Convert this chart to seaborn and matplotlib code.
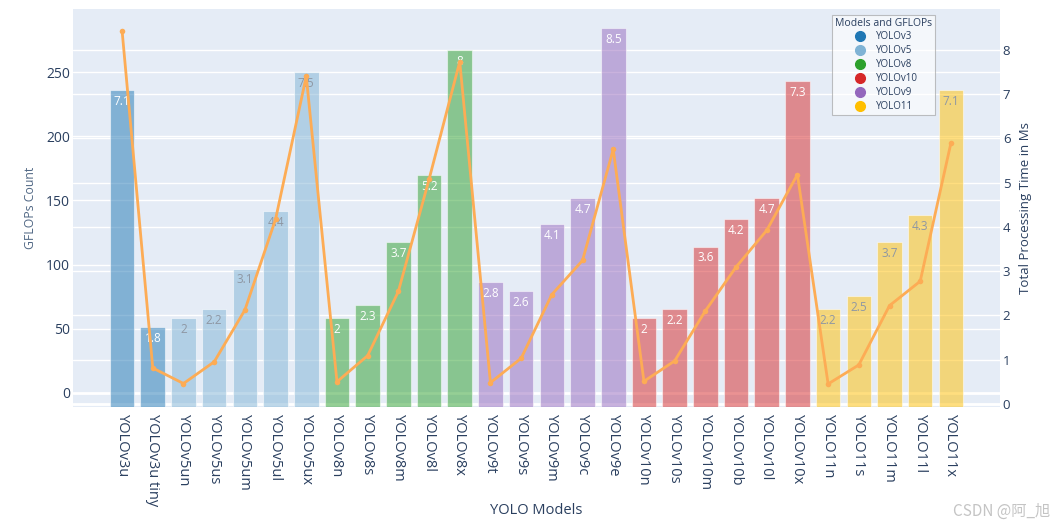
import numpy as np
import pandas as pd
import seaborn as sns
import matplotlib.pyplot as plt
from matplotlib.lines import Line2D

# data
models = ["YOLOv3u", "YOLOv3u tiny", "YOLOv5un", "YOLOv5us", "YOLOv5um", "YOLOv5ul", "YOLOv5ux",
          "YOLOv8n", "YOLOv8s", "YOLOv8m", "YOLOv8l", "YOLOv8x",
          "YOLOv9t", "YOLOv9s", "YOLOv9m", "YOLOv9c", "YOLOv9e",
          "YOLOv10n", "YOLOv10s", "YOLOv10m", "YOLOv10b", "YOLOv10l", "YOLOv10x",
          "YOLO11n", "YOLO11s", "YOLO11m", "YOLO11l", "YOLO11x"]
families = (["YOLOv3"] * 2 + ["YOLOv5"] * 5 + ["YOLOv8"] * 5 + ["YOLOv9"] * 5
            + ["YOLOv10"] * 6 + ["YOLO11"] * 5)
gflops = [236.1, 51.4, 58.2, 65.3, 96.8, 142.0, 250.0,
          58.2, 68.6, 117.4, 169.9, 267.5,
          86.1, 79.1, 131.5, 152.1, 284.7,
          58.2, 65.3, 114.0, 135.2, 152.1, 243.0,
          65.3, 75.7, 117.4, 138.3, 236.1]
bar_text = ["7.1", "1.8", "2", "2.2", "3.1", "4.4", "7.5",
            "2", "2.3", "3.7", "5.2", "8",
            "2.8", "2.6", "4.1", "4.7", "8.5",
            "2", "2.2", "3.6", "4.2", "4.7", "7.3",
            "2.2", "2.5", "3.7", "4.3", "7.1"]
times = [8.43, 0.81, 0.46, 0.95, 2.12, 4.17, 7.40,
         0.50, 1.09, 2.54, 5.07, 7.73,
         0.48, 1.03, 2.47, 3.24, 5.75,
         0.51, 0.97, 2.10, 3.09, 3.92, 5.18,
         0.45, 0.88, 2.22, 2.77, 5.89]
legend_order = ["YOLOv3", "YOLOv5", "YOLOv8", "YOLOv10", "YOLOv9", "YOLO11"]
family_colors = {"YOLOv3": "#1f77b4", "YOLOv5": "#7fb3d5", "YOLOv8": "#2ca02c",
                 "YOLOv10": "#d62728", "YOLOv9": "#9467bd", "YOLO11": "#ffbf00"}
light_families = ["YOLOv5", "YOLO11"]

df = pd.DataFrame({"model": models, "family": families, "gflops": gflops, "time": times})
df["pos"] = np.arange(len(df))

sns.set_style("white")
plt.rcParams['font.family'] = ['Open Sans', 'DejaVu Sans']

text_col = "#2a3f5f"
left_lim = (-11.2, 299.5)
right_lim = (-0.07, 8.92)

fig = plt.figure(figsize=(10.59, 5.28), dpi=100)
ax = fig.add_axes([0.0689, 0.2292, 0.8754, 0.7538])
ax_bg = ax.twinx()
ax_line = ax.twinx()
ax_bg.set_zorder(0)
ax.set_zorder(1)
ax_line.set_zorder(2)
ax.patch.set_visible(False)
ax_bg.patch.set_visible(True)
ax_bg.set_facecolor("#E5ECF6")

# background axis: right scale grid
ax_bg.set_ylim(*right_lim)
ax_bg.set_yticks(range(0, 9))
ax_bg.grid(axis='y', color='white', lw=1)
ax_bg.axhline(0, color='white', lw=2)
ax_bg.tick_params(axis='y', labelsize=9.5, colors=text_col, length=0, pad=2)
ax_bg.set_ylabel("Total Processing Time in Ms", fontsize=9.5, color=text_col)
ax_bg.yaxis.set_label_coords(1.021, 0.5)

# bars
sns.barplot(data=df, x="model", y="gflops", hue="family", palette=family_colors,
            saturation=1, dodge=False, alpha=0.5, width=0.8, legend=False, ax=ax,
            edgecolor='white', linewidth=0.8)
ax.set_ylim(*left_lim)
for p in ax.patches:
    h = p.get_height()
    p.set_y(left_lim[0])
    p.set_height(h - left_lim[0])

for i, (v, t, f) in enumerate(zip(gflops, bar_text, families)):
    c = "#8e97a3" if f in light_families else "white"
    ax.annotate(t, (i, v), xytext=(0, -3.5), textcoords='offset points',
                ha='center', va='top', fontsize=8.5, color=c)

ax.set_yticks(range(0, 251, 50))
ax.grid(axis='y', color='white', lw=1)
ax.grid(axis='x', visible=False)
ax.set_axisbelow(True)
ax.axhline(0, color='white', lw=2, zorder=0.5)
ax.tick_params(axis='y', labelsize=10, colors=text_col, length=0, pad=2)
ax.tick_params(axis='x', labelsize=10.5, colors=text_col, length=0, pad=5, rotation=-90)
ax.set_ylabel("GFLOPs Count", fontsize=8.8, color="#506784")
ax.yaxis.set_label_coords(-0.039, 0.5)
ax.set_xlabel("YOLO Models", fontsize=10.5, color=text_col)
ax.xaxis.set_label_coords(0.5, -0.24)

# processing time line
sns.lineplot(data=df, x="pos", y="time", ax=ax_line, color="#fdac55", lw=2,
             marker='o', markersize=4, markeredgewidth=0)
ax_line.set_ylim(*right_lim)
ax_line.yaxis.set_visible(False)
ax_line.set_xlabel("")
ax_line.set_ylabel("")

for a in (ax, ax_bg, ax_line):
    for s in a.spines.values():
        s.set_visible(False)
ax.set_xlim(-1.6, len(models) - 1 + 1.6)

handles = [Line2D([], [], marker='o', ls='', color=family_colors[f], markersize=7)
           for f in legend_order]
leg = ax_line.legend(handles, legend_order, title="Models and GFLOPs", loc='upper left',
                     bbox_to_anchor=(0.814, 0.998), fontsize=7, title_fontsize=7.5,
                     frameon=True, fancybox=False, edgecolor='#999999', facecolor='white',
                     framealpha=0.6, borderpad=0.3, labelspacing=0.3, handletextpad=0.6)
leg.get_frame().set_linewidth(0.8)
for txt in leg.get_texts():
    txt.set_color(text_col)
leg.get_title().set_color(text_col)

fig.text(1050 / 1059, 17 / 528, "CSDN @阿_旭", ha='right', va='center', fontsize=11,
         color='#c4c4c4', family=['Noto Sans CJK SC', 'DejaVu Sans'])

fig.savefig("out.png", dpi=100)
